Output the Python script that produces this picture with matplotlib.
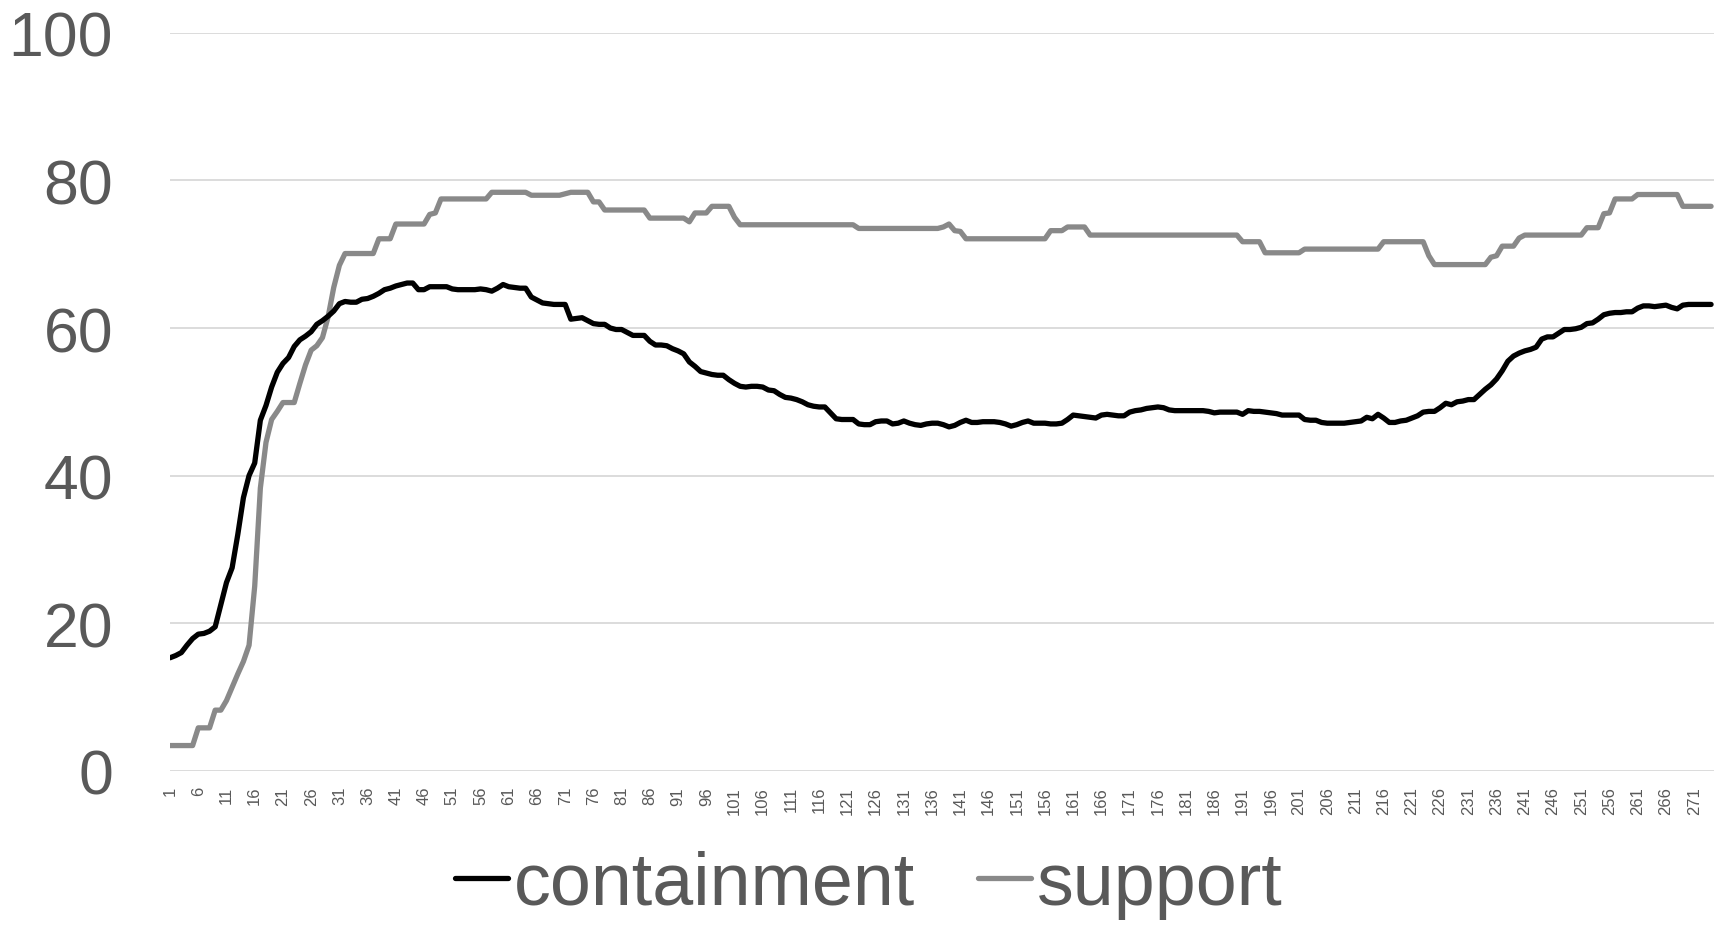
import matplotlib
matplotlib.use("Agg")
import matplotlib.pyplot as plt
import numpy as np

plt.rcParams['font.family'] = ['Liberation Sans', 'DejaVu Sans']

containment = [
    15.3, 15.6, 16.0, 17.0, 17.9, 18.5, 18.6, 18.9, 19.5, 22.5,
    25.5, 27.5, 32.0, 37.0, 40.0, 41.7, 47.5, 49.5, 52.0, 54.0,
    55.2, 56.0, 57.5, 58.4, 58.9, 59.5, 60.5, 61.0, 61.6, 62.3,
    63.3, 63.6, 63.5, 63.5, 63.9, 64.0, 64.3, 64.7, 65.2, 65.4,
    65.7, 65.9, 66.1, 66.1, 65.2, 65.2, 65.6, 65.6, 65.6, 65.6,
    65.3, 65.2, 65.2, 65.2, 65.2, 65.3, 65.2, 65.0, 65.4, 65.9,
    65.6, 65.5, 65.4, 65.4, 64.2, 63.8, 63.4, 63.3, 63.2, 63.2,
    63.2, 61.2, 61.3, 61.4, 61.0, 60.6, 60.5, 60.5, 60.0, 59.8,
    59.8, 59.4, 59.0, 59.0, 59.0, 58.2, 57.7, 57.7, 57.6, 57.2,
    56.9, 56.5, 55.4, 54.8, 54.1, 53.9, 53.7, 53.6, 53.6, 53.0,
    52.5, 52.1, 52.0, 52.1, 52.1, 52.0, 51.6, 51.5, 51.0, 50.6,
    50.5, 50.3, 50.0, 49.6, 49.4, 49.3, 49.3, 48.5, 47.7, 47.6,
    47.6, 47.6, 47.0, 46.9, 46.9, 47.3, 47.4, 47.4, 47.0, 47.1,
    47.4, 47.1, 46.9, 46.8, 47.0, 47.1, 47.1, 46.9, 46.6, 46.8,
    47.2, 47.5, 47.2, 47.2, 47.3, 47.3, 47.3, 47.2, 47.0, 46.7,
    46.9, 47.2, 47.4, 47.1, 47.1, 47.1, 47.0, 47.0, 47.1, 47.6,
    48.2, 48.1, 48.0, 47.9, 47.8, 48.2, 48.3, 48.2, 48.1, 48.1,
    48.6, 48.8, 48.9, 49.1, 49.2, 49.3, 49.2, 48.9, 48.8, 48.8,
    48.8, 48.8, 48.8, 48.8, 48.7, 48.5, 48.6, 48.6, 48.6, 48.6,
    48.3, 48.8, 48.7, 48.7, 48.6, 48.5, 48.4, 48.2, 48.2, 48.2,
    48.2, 47.6, 47.5, 47.5, 47.2, 47.1, 47.1, 47.1, 47.1, 47.2,
    47.3, 47.4, 47.9, 47.7, 48.3, 47.8, 47.2, 47.2, 47.4, 47.5,
    47.8, 48.1, 48.6, 48.7, 48.7, 49.2, 49.8, 49.6, 50.0, 50.1,
    50.3, 50.3, 51.0, 51.7, 52.3, 53.1, 54.2, 55.5, 56.2, 56.6,
    56.9, 57.1, 57.4, 58.5, 58.8, 58.8, 59.3, 59.8, 59.8, 59.9,
    60.1, 60.6, 60.7, 61.2, 61.8, 62.0, 62.1, 62.1, 62.2, 62.2,
    62.7, 63.0, 63.0, 62.9, 63.0, 63.1, 62.8, 62.6, 63.1, 63.2,
    63.2, 63.2, 63.2, 63.2,
]

support = [
    3.4, 3.4, 3.4, 3.4, 3.4, 5.8, 5.8, 5.8, 8.2, 8.2,
    9.5, 11.3, 13.1, 14.8, 17.0, 25.0, 38.3, 44.5, 47.6, 48.7,
    49.9, 49.9, 49.9, 52.5, 55.0, 57.0, 57.6, 58.7, 61.5, 65.5,
    68.5, 70.1, 70.1, 70.1, 70.1, 70.1, 70.1, 72.1, 72.1, 72.1,
    74.1, 74.1, 74.1, 74.1, 74.1, 74.1, 75.4, 75.6, 77.5, 77.5,
    77.5, 77.5, 77.5, 77.5, 77.5, 77.5, 77.5, 78.4, 78.4, 78.4,
    78.4, 78.4, 78.4, 78.4, 78.0, 78.0, 78.0, 78.0, 78.0, 78.0,
    78.2, 78.4, 78.4, 78.4, 78.4, 77.1, 77.1, 76.0, 76.0, 76.0,
    76.0, 76.0, 76.0, 76.0, 76.0, 74.9, 74.9, 74.9, 74.9, 74.9,
    74.9, 74.9, 74.4, 75.6, 75.6, 75.6, 76.5, 76.5, 76.5, 76.5,
    75.0, 74.0, 74.0, 74.0, 74.0, 74.0, 74.0, 74.0, 74.0, 74.0,
    74.0, 74.0, 74.0, 74.0, 74.0, 74.0, 74.0, 74.0, 74.0, 74.0,
    74.0, 74.0, 73.5, 73.5, 73.5, 73.5, 73.5, 73.5, 73.5, 73.5,
    73.5, 73.5, 73.5, 73.5, 73.5, 73.5, 73.5, 73.7, 74.1, 73.2,
    73.1, 72.1, 72.1, 72.1, 72.1, 72.1, 72.1, 72.1, 72.1, 72.1,
    72.1, 72.1, 72.1, 72.1, 72.1, 72.1, 73.2, 73.2, 73.2, 73.7,
    73.7, 73.7, 73.7, 72.6, 72.6, 72.6, 72.6, 72.6, 72.6, 72.6,
    72.6, 72.6, 72.6, 72.6, 72.6, 72.6, 72.6, 72.6, 72.6, 72.6,
    72.6, 72.6, 72.6, 72.6, 72.6, 72.6, 72.6, 72.6, 72.6, 72.6,
    71.7, 71.7, 71.7, 71.7, 70.2, 70.2, 70.2, 70.2, 70.2, 70.2,
    70.2, 70.7, 70.7, 70.7, 70.7, 70.7, 70.7, 70.7, 70.7, 70.7,
    70.7, 70.7, 70.7, 70.7, 70.7, 71.7, 71.7, 71.7, 71.7, 71.7,
    71.7, 71.7, 71.7, 69.8, 68.6, 68.6, 68.6, 68.6, 68.6, 68.6,
    68.6, 68.6, 68.6, 68.6, 69.6, 69.8, 71.1, 71.1, 71.1, 72.2,
    72.6, 72.6, 72.6, 72.6, 72.6, 72.6, 72.6, 72.6, 72.6, 72.6,
    72.6, 73.6, 73.6, 73.6, 75.5, 75.6, 77.5, 77.5, 77.5, 77.5,
    78.1, 78.1, 78.1, 78.1, 78.1, 78.1, 78.1, 78.1, 76.5, 76.5,
    76.5, 76.5, 76.5, 76.5,
]

series_names = ['containment', 'support']
y_ticks = [0, 20, 40, 60, 80, 100]

x = np.arange(1, len(containment) + 1)
tick_positions = x[::5]
tick_labels = [str(v) for v in tick_positions]

TEXT = '#595959'

fig = plt.figure(figsize=(17.21, 9.28), dpi=100)
ax = fig.add_axes([0.0988, 0.1685, 0.8974, 0.7949])

ax.plot(x, containment, color='#000000', lw=3.8, label=series_names[0],
        solid_capstyle='round', solid_joinstyle='round', zorder=3)
ax.plot(x, support, color='#898989', lw=3.8, label=series_names[1],
        solid_capstyle='round', solid_joinstyle='round', zorder=2)

ax.set_xlim(1, 274.6)
ax.set_ylim(0, 100)
ax.set_yticks(y_ticks)
ax.set_yticklabels([str(v) for v in y_ticks])
ax.set_xticks(tick_positions)
ax.set_xticklabels(tick_labels, rotation=90)

ax.grid(axis='y', color='#d9d9d9', lw=1.3)
ax.set_axisbelow(True)
for s in ax.spines.values():
    s.set_visible(False)

ax.tick_params(axis='y', length=0, pad=41, labelsize=45, labelcolor=TEXT)
ax.tick_params(axis='x', length=0, pad=11, labelsize=12, labelcolor=TEXT)

leg = fig.legend(loc='center', bbox_to_anchor=(0.505, 0.046), ncol=2,
                 frameon=False, fontsize=53, handlelength=0.72,
                 handletextpad=0.08, columnspacing=0.85, borderaxespad=0,
                 borderpad=0)
for t in leg.get_texts():
    t.set_color(TEXT)

fig.savefig('out.png', dpi=100)
